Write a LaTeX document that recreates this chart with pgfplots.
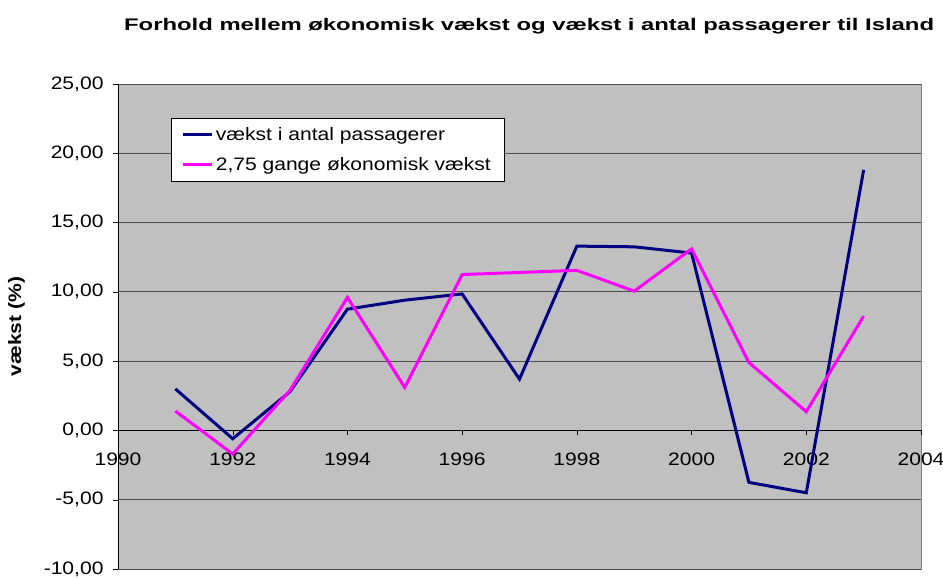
\documentclass[border=0pt]{standalone}
\usepackage{pgfplots}
\pgfplotsset{compat=1.18}
\usepackage{fontspec}
\setmainfont[FakeStretch=1.17]{Liberation Sans}
\newfontfamily\titlefont[FakeStretch=1.42]{Liberation Sans Bold}
\definecolor{bggray}{RGB}{192,192,192}
\definecolor{navyline}{RGB}{0,0,128}
\definecolor{pinkline}{RGB}{255,0,255}
\begin{document}
\begin{tikzpicture}
\begin{axis}[
  name=ax,
  scale only axis,
  width=803pt, height=485pt,
  xmin=1990, xmax=2004,
  ymin=-10, ymax=25,
  axis x line=middle,
  axis y line=left,
  axis line style={-, black},
  hide obscured x ticks=false,
  hide obscured y ticks=false,
  xtick={1990,1992,...,2004},
  ytick={-10,-5,...,25},
  tick align=outside,
  major tick length=5pt,
  tick style={black},
  xticklabel style={yshift=-14pt},
  yticklabel style={xshift=-6pt},
  ymajorgrids,
  grid style={black!70, line width=0.8pt},
  axis background/.style={fill=bggray, draw=black!50},
  /pgf/number format/assume math mode=true,
  x tick label style={/pgf/number format/1000 sep={}},
  y tick label style={/pgf/number format/.cd, fixed, fixed zerofill, precision=2, use comma},
  tick label style={font=\fontsize{18}{21}\selectfont},
  ylabel={vækst (\%)},
  every axis y label/.style={at={(ticklabel cs:0.5,12pt)}, rotate=90, anchor=south,
    font=\bfseries\fontsize{18}{21}\selectfont},
  title={Forhold mellem økonomisk vækst og vækst i antal passagerer til Island},
  title style={font=\titlefont\fontsize{16.8}{20}\selectfont, at={(0.512,1)}, anchor=south, yshift=40pt},
  legend style={at={(0.0655,0.93)}, anchor=north west, draw=black, fill=white,
    font=\fontsize{18}{21}\selectfont, row sep=12pt, inner xsep=11pt, inner ysep=7pt},
  legend cell align=left,
  legend image code/.code={\draw[#1] (0pt,0pt) -- (29pt,0pt);},
  every axis plot/.append style={line width=3pt},
]
\addplot[navyline] coordinates {
  (1991,3.0) (1992,-0.6) (1993,2.8) (1994,8.75) (1995,9.4) (1996,9.85)
  (1997,3.7) (1998,13.3) (1999,13.25) (2000,12.8) (2001,-3.75) (2002,-4.5) (2003,18.8)
};
\addplot[pinkline] coordinates {
  (1991,1.4) (1992,-1.7) (1993,2.9) (1994,9.6) (1995,3.1) (1996,11.25)
  (1997,11.4) (1998,11.55) (1999,10.05) (2000,13.1) (2001,4.9) (2002,1.35) (2003,8.25)
};
\legend{vækst i antal passagerer, {2,75 gange økonomisk vækst}}
\end{axis}
\pgfresetboundingbox
\path ([xshift=-118pt,yshift=-9pt]ax.south west) rectangle ([xshift=22pt,yshift=84pt]ax.north east);
\end{tikzpicture}
\end{document}
